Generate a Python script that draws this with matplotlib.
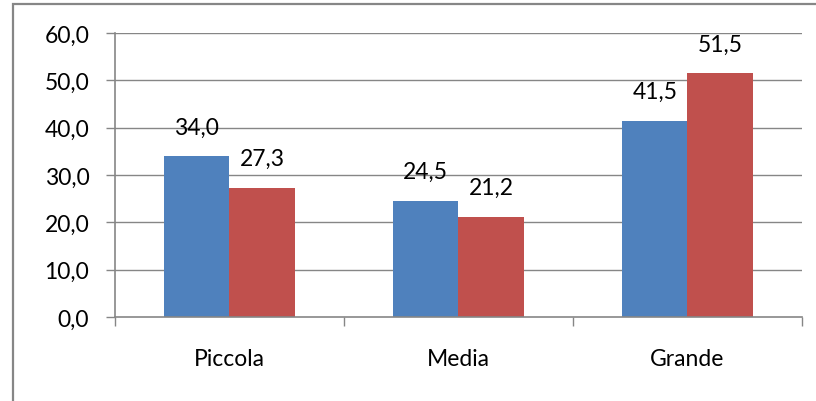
import matplotlib
matplotlib.use("Agg")
import matplotlib.pyplot as plt
from matplotlib.patches import Rectangle
import numpy as np

categories = ["Piccola", "Media", "Grande"]
serie1 = [34.0, 24.5, 41.5]
serie2 = [27.3, 21.2, 51.5]
yticks = [0, 10, 20, 30, 40, 50, 60]

plt.rcParams["font.family"] = ["Lato", "DejaVu Sans"]
grey = "#868686"

fig = plt.figure(figsize=(8.16, 4.02), dpi=100)
ax = fig.add_axes([0.1409, 0.209, 0.8419, 0.7065])

# outer chart border (cropped on right and bottom, like the source)
fig.patches.append(Rectangle((13 / 816, -0.1), 1.2, 1 - 5 / 402 + 0.1,
                             transform=fig.transFigure, fill=False,
                             edgecolor=grey, linewidth=1.6))

x = np.arange(len(categories))
w = 1 / 3.5
b1 = ax.bar(x - w / 2, serie1, w, color="#4F81BD", zorder=3)
b2 = ax.bar(x + w / 2, serie2, w, color="#C0504D", zorder=3)

for bars in (b1, b2):
    for rect in bars:
        v = rect.get_height()
        ax.annotate(f"{v:.1f}".replace(".", ","),
                    (rect.get_x() + rect.get_width() / 2, v),
                    xytext=(0, 21), textcoords="offset points",
                    ha="center", va="center", fontsize=16.5)

ax.set_xlim(-0.5, 2.5)
ax.set_ylim(0, 60)
ax.set_yticks(yticks)
ax.set_yticklabels([f"{t:.1f}".replace(".", ",") for t in yticks])
ax.set_xticks(x)
ax.set_xticklabels(categories)
ax.set_xticks([-0.5, 0.5, 1.5, 2.5], minor=True)
ax.tick_params(axis="x", which="major", length=0, pad=22, labelsize=16.5)
ax.tick_params(axis="x", which="minor", length=6.5, width=1, color=grey, direction="out")
ax.tick_params(axis="y", length=6.5, width=1, color=grey, pad=12, labelsize=16.5)

for t in yticks[1:]:
    ax.axhline(t, color=grey, linewidth=1, zorder=1)
for s in ("top", "right"):
    ax.spines[s].set_visible(False)
for s in ("left", "bottom"):
    ax.spines[s].set_color(grey)
    ax.spines[s].set_linewidth(1.2)
    ax.spines[s].set_zorder(4)

fig.savefig("out.png", dpi=100)
